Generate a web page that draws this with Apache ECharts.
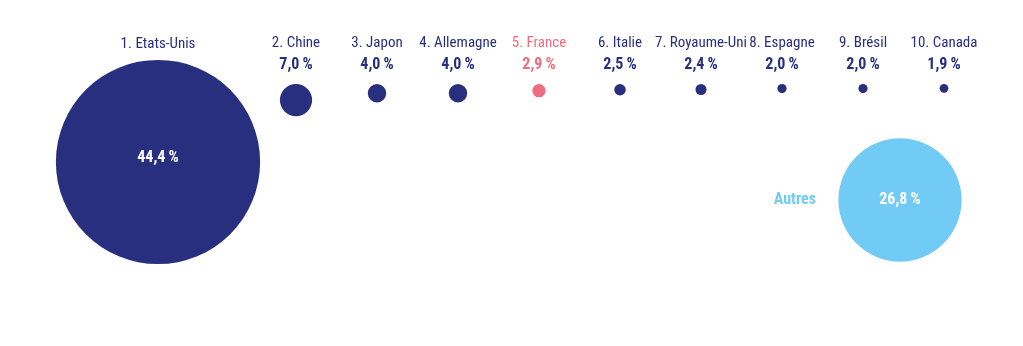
<!DOCTYPE html>
<html>
<head>
<meta charset="utf-8">
<script src="https://cdn.jsdelivr.net/npm/echarts@6/dist/echarts.min.js"></script>
<style>
html,body{margin:0;padding:0;background:#fff;}
#c{width:1023px;height:346px;}
</style>
</head>
<body>
<div id="c"></div>
<script>
// ---- data ----
const countries = ['1. Etats-Unis', '2. Chine', '3. Japon', '4. Allemagne', '5. France', '6. Italie', '7. Royaume-Uni', '8. Espagne', '9. Brésil', '10. Canada'];
const shares = [44.4, 7.0, 4.0, 4.0, 2.9, 2.5, 2.4, 2.0, 2.0, 1.9];
const othersName = 'Autres';
const othersShare = 26.8;
const highlighted = '5. France';

// ---- font pick: prefer a condensed face if one is installed ----
function hasFont(name) {
  const ctx = document.createElement('canvas').getContext('2d');
  const s = 'abcdefghijklmnopqrstuvwxyz ABCDEFGHIJKLM 0123456789';
  return ['monospace', 'serif'].every(base => {
    ctx.font = '20px ' + base; const w0 = ctx.measureText(s).width;
    ctx.font = "20px '" + name + "', " + base; const w1 = ctx.measureText(s).width;
    return Math.abs(w1 - w0) > 0.5;
  });
}
const condensed = ['Roboto Condensed', 'Noto Sans Condensed', 'Liberation Sans Narrow', 'DejaVu Sans Condensed', 'Open Sans Condensed', 'Arial Narrow'].find(hasFont);
const FONT = condensed ? "'" + condensed + "', Roboto, sans-serif" : "Roboto, sans-serif";
const FS = condensed ? 15 : 14;
const FSB = condensed ? 16 : 15;

// ---- styles ----
const NAVY = '#282F7E', PINK = '#EE6D80', SKY = '#72CBF5';
const PX_PER_PCT = 4.6; // diameter per percentage point

const fmt = v => v.toFixed(1).replace('.', ',') + '\u2009%';

const topNames = countries.slice(1);
const topShares = shares.slice(1);

const chart = echarts.init(document.getElementById('c'), null, {renderer: 'canvas'});

const hidden = {show: false};
const option = {
  animation: false,
  backgroundColor: '#fff',
  textStyle: {fontFamily: FONT},
  grid: [
    {left: 56, width: 204, top: 60, height: 204},          // US
    {left: 255.5, width: 729, top: 84, height: 40},        // top row
    {left: 838, width: 124, top: 138, height: 124}         // others
  ],
  xAxis: [
    {gridIndex: 0, type: 'category', position: 'top', data: [countries[0]],
     axisLine: hidden, axisTick: hidden, splitLine: hidden,
     axisLabel: {margin: 8, color: NAVY, fontFamily: FONT, fontSize: FS}},
    {gridIndex: 1, type: 'category', position: 'top', data: topNames,
     axisLine: hidden, axisTick: hidden, splitLine: hidden,
     axisLabel: {
       margin: 8, interval: 0, fontFamily: FONT,
       formatter: (val, i) => {
         const k = val === highlighted ? 'h' : 'n';
         return '{' + k + 'n|' + val + '}\n{' + k + 'v|' + fmt(topShares[i]) + '}';
       },
       rich: {
         nn: {color: NAVY, fontSize: FS, lineHeight: 22, fontFamily: FONT},
         nv: {color: NAVY, fontSize: FSB, fontWeight: 'bold', lineHeight: 22, fontFamily: FONT},
         hn: {color: PINK, fontSize: FS, lineHeight: 22, fontFamily: FONT},
         hv: {color: PINK, fontSize: FSB, fontWeight: 'bold', lineHeight: 22, fontFamily: FONT}
       }
     }},
    {gridIndex: 2, type: 'value', min: 0, max: 2, show: false}
  ],
  yAxis: [
    {gridIndex: 0, type: 'value', min: 0, max: 2, show: false},
    {gridIndex: 1, type: 'value', min: 0, max: 1, show: false},
    {gridIndex: 2, type: 'category', data: [othersName],
     axisLine: hidden, axisTick: hidden, splitLine: hidden,
     axisLabel: {margin: 22, color: SKY, fontWeight: 'bold', fontFamily: FONT, fontSize: FSB, padding: [3, 0, 0, 0]}}
  ],
  series: [
    {
      type: 'scatter', xAxisIndex: 0, yAxisIndex: 0,
      data: [{value: [countries[0], 1], symbolSize: shares[0] * PX_PER_PCT}],
      itemStyle: {color: NAVY, opacity: 1},
      label: {show: true, position: 'inside', formatter: () => fmt(shares[0]),
              color: '#fff', fontWeight: 'bold', fontSize: FSB, fontFamily: FONT, offset: [0, -4]},
      silent: true
    },
    {
      type: 'scatter', xAxisIndex: 1, yAxisIndex: 1,
      data: topNames.map((n, i) => ({
        value: [n, 1],
        symbolSize: topShares[i] * PX_PER_PCT,
        symbolOffset: [0, topShares[i] * PX_PER_PCT / 2],
        itemStyle: {color: n === highlighted ? PINK : NAVY, opacity: 1}
      })),
      silent: true
    },
    {
      type: 'scatter', xAxisIndex: 2, yAxisIndex: 2,
      data: [{value: [1, othersName], symbolSize: othersShare * PX_PER_PCT}],
      itemStyle: {color: SKY, opacity: 1},
      label: {show: true, position: 'inside', formatter: () => fmt(othersShare),
              color: '#fff', fontWeight: 'bold', fontSize: FSB, fontFamily: FONT},
      silent: true
    }
  ]
};
chart.setOption(option);
</script>
</body>
</html>
